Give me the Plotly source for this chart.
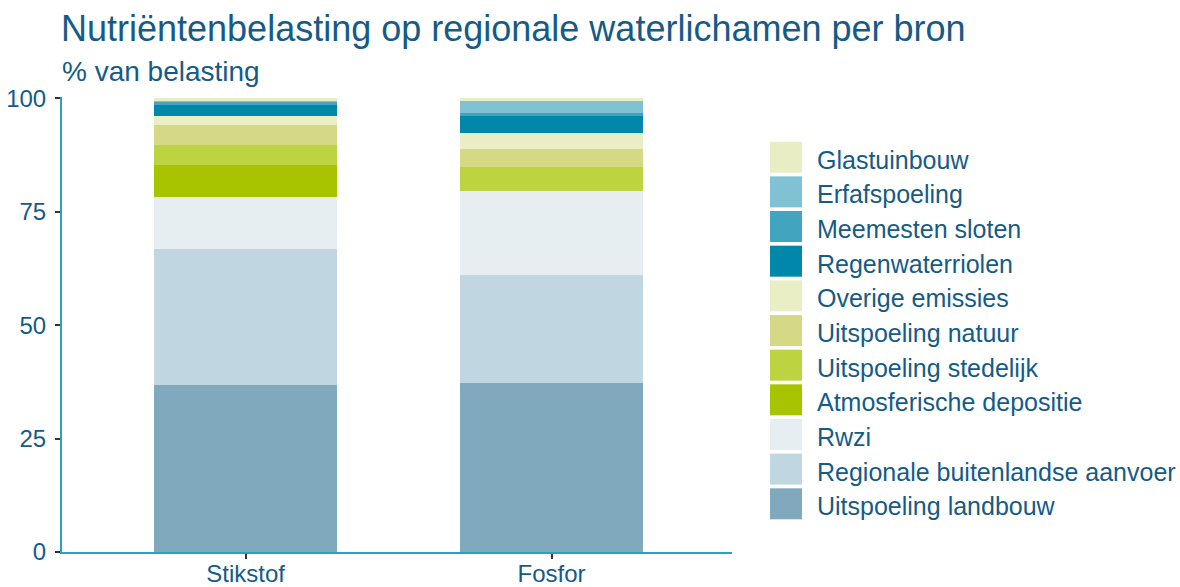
import plotly.graph_objects as go

# ---- data ----
categories = ["Stikstof", "Fosfor"]
sources = [
    "Uitspoeling landbouw",
    "Regionale buitenlandse aanvoer",
    "Rwzi",
    "Atmosferische depositie",
    "Uitspoeling stedelijk",
    "Uitspoeling natuur",
    "Overige emissies",
    "Regenwaterriolen",
    "Meemesten sloten",
    "Erfafspoeling",
    "Glastuinbouw",
]
stikstof = [36.9, 29.9, 11.4, 7.1, 4.4, 4.4, 2.0, 2.4, 0.6, 0.5, 0.4]
fosfor = [37.2, 23.9, 18.5, 0.0, 5.2, 4.0, 3.5, 3.9, 0.5, 2.8, 0.5]
colors = [
    "#81a9bd", "#c0d6e1", "#e6eef2", "#a8c300", "#bdd340", "#d5d986",
    "#e9eec5", "#0087aa", "#42a4bf", "#80c2d4", "#e8edc4",
]
y_ticks = [0, 25, 50, 75, 100]

title_text = "Nutriëntenbelasting op regionale waterlichamen per bron"
subtitle_text = "% van belasting"

TEXT = "#155b87"
AXIS = "#2aa0c3"
FONT = "Liberation Sans, Arial, sans-serif"

W, H = 1180, 587
L, R, T, B = 62, 448, 97, 35
PW, PH = W - L - R, H - T - B

fig = go.Figure()
for name, s, p, c in zip(sources, stikstof, fosfor, colors):
    fig.add_trace(go.Bar(
        x=categories, y=[s, p], name=name,
        marker=dict(color=c, line=dict(width=0)),
        width=0.6, showlegend=False,
    ))

# ---- manual legend (large swatches) ----
shapes, annotations = [], []
leg_items = list(zip(sources, colors))[::-1]
top0, pitch, sq = 141.7, 34.66, 31.0
for i, (name, c) in enumerate(leg_items):
    ty = top0 + pitch * i
    shapes.append(dict(
        type="rect", xref="paper", yref="paper",
        x0=(770 - L) / PW, x1=(802 - L) / PW,
        y0=(T + PH - ty) / PH, y1=(T + PH - ty - sq) / PH,
        fillcolor=c, line=dict(width=0), layer="above",
    ))
    annotations.append(dict(
        xref="paper", yref="paper", x=(815 - L) / PW,
        y=(T + PH - ty - sq / 2 - 2.5) / PH, text=name, showarrow=False,
        xanchor="left", yanchor="middle",
        font=dict(size=25, color=TEXT, family=FONT),
    ))

annotations.append(dict(
    xref="paper", yref="paper", x=(60 - L) / PW, y=(T + PH - 72) / PH,
    text=subtitle_text, showarrow=False, xanchor="left", yanchor="middle",
    font=dict(size=28, color=TEXT, family=FONT),
))

fig.update_layout(
    width=W, height=H,
    margin=dict(l=L, r=R, t=T, b=B, autoexpand=False),
    barmode="stack",
    bargap=0.4,
    paper_bgcolor="white", plot_bgcolor="white",
    font=dict(family=FONT, color=TEXT, size=24),
    title=dict(
        text=title_text, x=61 / W, xanchor="left", xref="container",
        y=1 - 28 / H, yanchor="middle", yref="container",
        font=dict(size=36, color=TEXT, family=FONT),
    ),
    shapes=shapes,
    annotations=annotations,
    showlegend=False,
    xaxis=dict(
        range=[-0.6, 1.59], showline=True, linecolor=AXIS, linewidth=2,
        ticks="outside", ticklen=5, tickcolor="#333333", tickwidth=1.5,
        showgrid=False, zeroline=False, automargin=False,
        ticklabelstandoff=-6,
        tickfont=dict(size=24, color=TEXT, family=FONT),
    ),
    yaxis=dict(
        range=[0, 100.3], tickvals=y_ticks, showline=True, linecolor=AXIS,
        linewidth=2, ticks="outside", ticklen=5, tickcolor="#333333",
        tickwidth=1.5, showgrid=False, zeroline=False, automargin=False,
        ticklabelstandoff=4,
        tickfont=dict(size=24, color=TEXT, family=FONT),
    ),
)

fig.write_html(
    "out.html",
    config={"displayModeBar": False},
    post_script="document.body.style.margin='0px';",
)
